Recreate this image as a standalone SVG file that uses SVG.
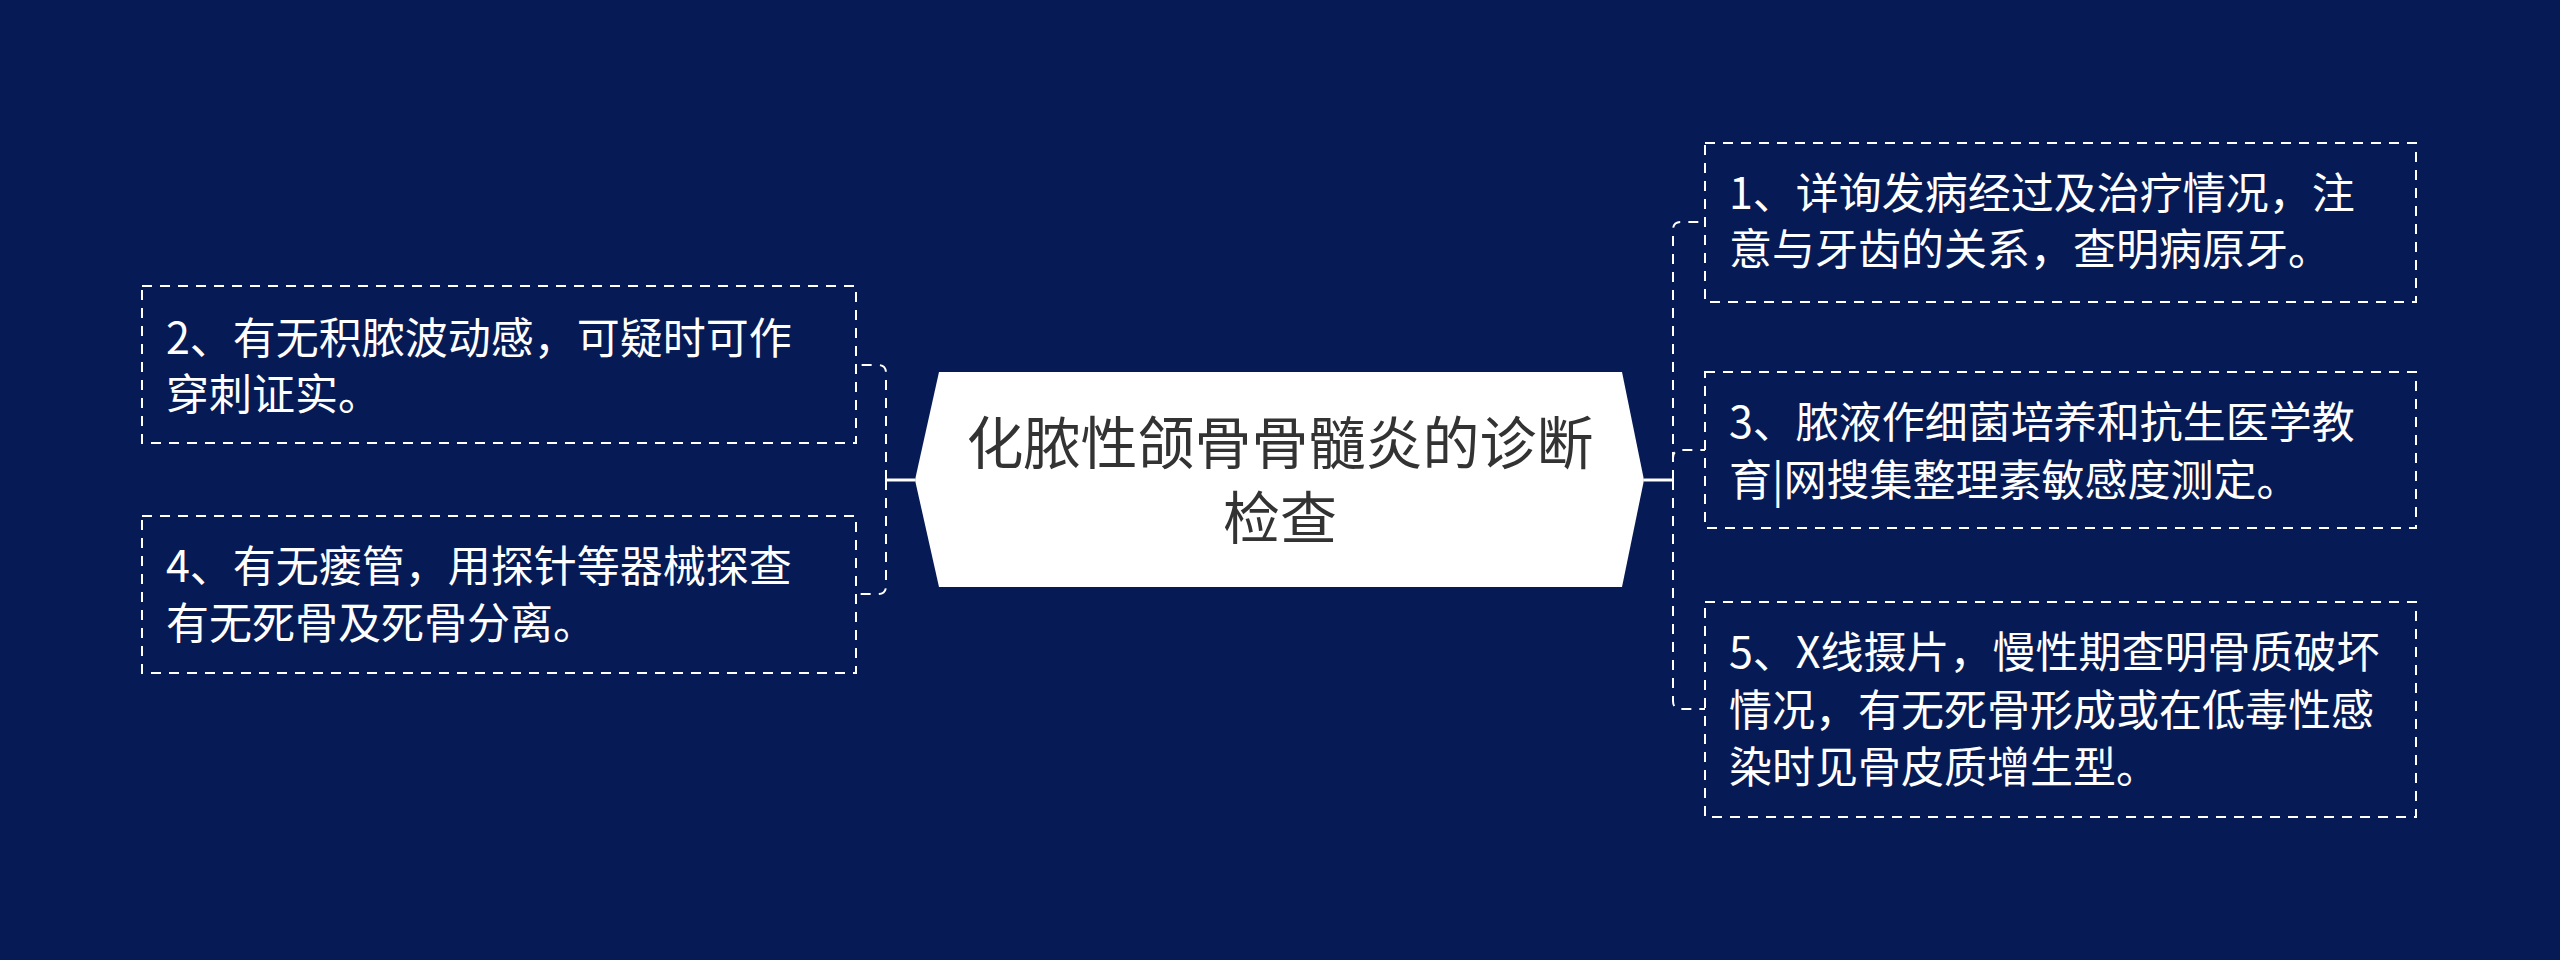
<svg xmlns="http://www.w3.org/2000/svg" width="2560" height="960" viewBox="0 0 2560 960">
<style>
.bg{fill:#061b56}
.box{fill:none;stroke:#ffffff;stroke-width:2;stroke-dasharray:10 8}
.t{font-family:"Noto Sans CJK SC","Noto Sans",sans-serif;font-size:43px;fill:#ffffff}
.ct{font-family:"Noto Sans CJK SC","Noto Sans",sans-serif;font-size:57px;fill:#333333;text-anchor:middle}
.solid{fill:none;stroke:#ffffff;stroke-width:3}
.dash{fill:none;stroke:#ffffff;stroke-width:2;stroke-dasharray:10 8}
</style>
<rect class="bg" x="0" y="0" width="2560" height="960"/>
<g id="connectors">
<path class="solid" d="M915,480 H886"/>
<path class="dash" d="M886,480 V373 Q886,365 878,365 H856"/>
<path class="dash" d="M886,480 V586 Q886,594 878,594 H856"/>
<path class="solid" d="M1644,480 H1673"/>
<path class="dash" d="M1673,480 V230 Q1673,222 1681,222 H1705"/>
<path class="dash" d="M1673,480 V458 Q1673,450 1681,450 H1705"/>
<path class="dash" d="M1673,480 V701 Q1673,709 1681,709 H1705"/>
</g>
<g id="center">
<polygon points="939,372 1622,372 1644,480 1622,587 939,587 915,480" fill="#ffffff"/>
<text class="ct" x="1280" y="464">化脓性颌骨骨髓炎的诊断</text>
<text class="ct" x="1280" y="539">检查</text>
</g>
<g id="node1">
<rect class="box" x="1705" y="143" width="711" height="159"/>
<text class="t" x="1729" y="209">1、详询发病经过及治疗情况，注</text>
<text class="t" x="1729" y="265">意与牙齿的关系，查明病原牙。</text>
</g>
<g id="node3">
<rect class="box" x="1705" y="372" width="711" height="156"/>
<text class="t" x="1729" y="438">3、脓液作细菌培养和抗生医学教</text>
<text class="t" x="1729" y="496">育|网搜集整理素敏感度测定。</text>
</g>
<g id="node5">
<rect class="box" x="1705" y="602" width="711" height="215"/>
<text class="t" x="1729" y="668">5、X线摄片，慢性期查明骨质破坏</text>
<text class="t" x="1729" y="726">情况，有无死骨形成或在低毒性感</text>
<text class="t" x="1729" y="783">染时见骨皮质增生型。</text>
</g>
<g id="node2">
<rect class="box" x="142" y="286" width="714" height="157"/>
<text class="t" x="166" y="354">2、有无积脓波动感，可疑时可作</text>
<text class="t" x="166" y="410">穿刺证实。</text>
</g>
<g id="node4">
<rect class="box" x="142" y="516" width="714" height="157"/>
<text class="t" x="166" y="582">4、有无瘘管，用探针等器械探查</text>
<text class="t" x="166" y="639">有无死骨及死骨分离。</text>
</g>
</svg>
